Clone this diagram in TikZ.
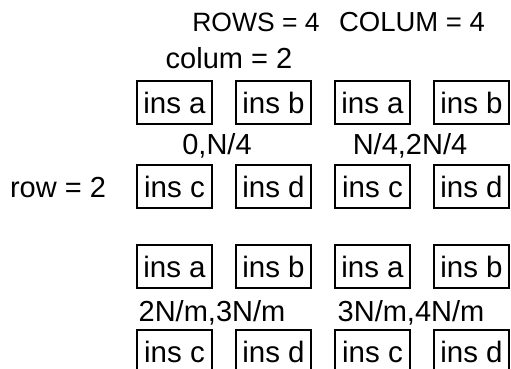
\documentclass[tikz,border=0pt]{standalone}
\usepackage{fontspec}
\setmainfont{Liberation Sans}
\usepackage{tikz}
\usetikzlibrary{positioning}

\begin{document}
\begin{tikzpicture}[x=1pt,y=-1pt,
  insbox/.style={draw,line width=1.1pt,minimum width=75pt,minimum height=43pt,inner sep=0pt,font=\fontsize{29.5}{31}\selectfont},
  lbl/.style={anchor=base,inner sep=0pt,font=\fontsize{29}{31}\selectfont}]
\useasboundingbox (0,0) rectangle (511,369);
\clip (0,0) rectangle (511,369);
% heading
\node[lbl,font=\fontsize{26.5}{29}\selectfont] (rows) at (256,32) {ROWS = 4};
\node[lbl,font=\fontsize{27.5}{29}\selectfont] (colum) at (412,32) {COLUM = 4};
\node[lbl] (colsub) at (229,69) {colum = 2};
% first block row
\node[insbox] (a1) at (174.5,102.5) {ins a};
\node[insbox] (b1) at (273.5,102.5) {ins b};
\node[insbox] (a2) at (372.5,102.5) {ins a};
\node[insbox] (b2) at (471.5,102.5) {ins b};
\node[lbl] (r1) at (217,154) {0,N/4};
\node[lbl] (r2) at (410,154) {N/4,2N/4};
\node[lbl] (rowsub) at (58,197) {row = 2};
\node[insbox] (c1) at (174.5,186.5) {ins c};
\node[insbox] (d1) at (273.5,186.5) {ins d};
\node[insbox] (c2) at (372.5,186.5) {ins c};
\node[insbox] (d2) at (471.5,186.5) {ins d};
% second block row
\node[insbox] (a3) at (174.5,266.5) {ins a};
\node[insbox] (b3) at (273.5,266.5) {ins b};
\node[insbox] (a4) at (372.5,266.5) {ins a};
\node[insbox] (b4) at (471.5,266.5) {ins b};
\node[lbl] (r3) at (212,321) {2N/m,3N/m};
\node[lbl] (r4) at (411,321) {3N/m,4N/m};
\node[insbox] (c3) at (174.5,351.5) {ins c};
\node[insbox] (d3) at (273.5,351.5) {ins d};
\node[insbox] (c4) at (372.5,351.5) {ins c};
\node[insbox] (d4) at (471.5,351.5) {ins d};
\end{tikzpicture}
\end{document}
